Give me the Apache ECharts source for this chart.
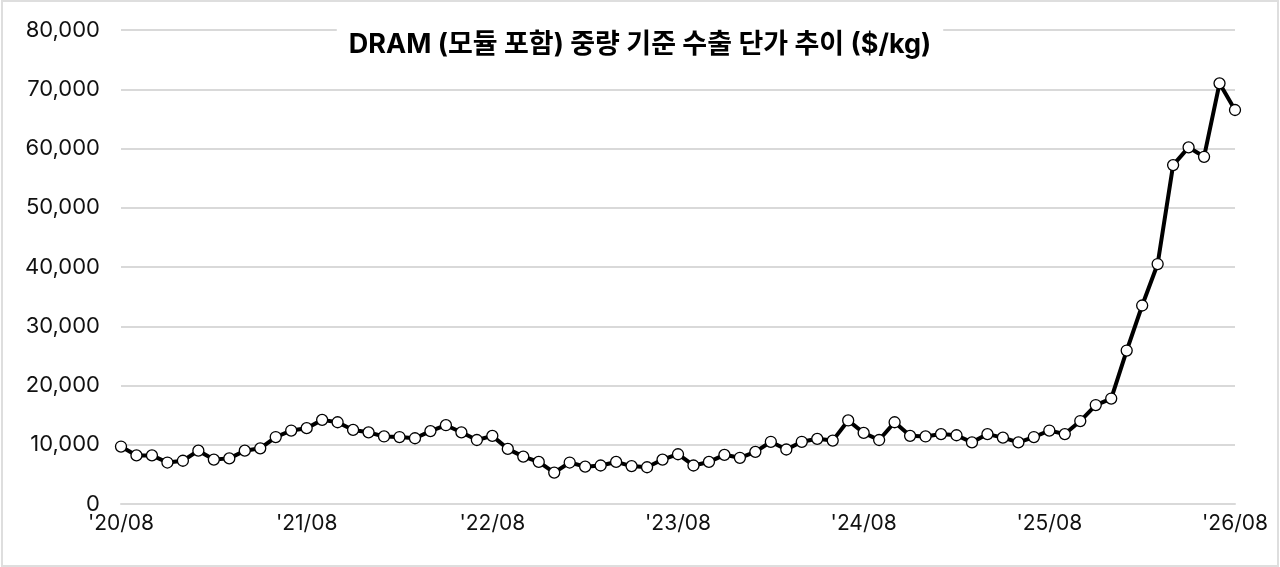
<!DOCTYPE html>
<html>
<head>
<meta charset="utf-8">
<script src="https://cdn.jsdelivr.net/npm/echarts@6/dist/echarts.min.js"></script>
<style>
html,body{margin:0;padding:0;background:#fff;}
#frame{position:absolute;left:1px;top:0px;width:1274px;height:563px;border:2px solid #dedede;}
#chart{position:absolute;left:0;top:0;width:1280px;height:567px;}
</style>
</head>
<body>
<div id="frame"></div>
<div id="chart"></div>
<script>
const titleText = "DRAM (모듈 포함) 중량 기준 수출 단가 추이 ($/kg)";
const categories = [
"'20/08","'20/09","'20/10","'20/11","'20/12",
"'21/01","'21/02","'21/03","'21/04","'21/05","'21/06","'21/07","'21/08","'21/09","'21/10","'21/11","'21/12",
"'22/01","'22/02","'22/03","'22/04","'22/05","'22/06","'22/07","'22/08","'22/09","'22/10","'22/11","'22/12",
"'23/01","'23/02","'23/03","'23/04","'23/05","'23/06","'23/07","'23/08","'23/09","'23/10","'23/11","'23/12",
"'24/01","'24/02","'24/03","'24/04","'24/05","'24/06","'24/07","'24/08","'24/09","'24/10","'24/11","'24/12",
"'25/01","'25/02","'25/03","'25/04","'25/05","'25/06","'25/07","'25/08","'25/09","'25/10","'25/11","'25/12",
"'26/01","'26/02","'26/03","'26/04","'26/05","'26/06","'26/07","'26/08"
];
const unitPrice = [
9700,8200,8200,7000,7300,
9000,7500,7700,9000,9400,11300,12400,12800,14200,13800,12500,12100,
11400,11300,11100,12300,13300,12100,10800,11500,9300,8000,7100,5300,
7000,6300,6500,7100,6400,6200,7500,8400,6500,7100,8300,7800,
8800,10500,9200,10500,11000,10700,14100,12000,10800,13800,11500,11400,
11800,11600,10400,11800,11200,10400,11300,12400,11800,14000,16700,17800,
25900,33500,40500,57200,60200,58600,71000,66500
];
const yMin = 0, yMax = 80000, yStep = 10000;

const chart = echarts.init(document.getElementById('chart'), null, {renderer:'canvas'});
const fontLatin = 'Inter, "Noto Sans CJK KR", sans-serif';
chart.setOption({
  backgroundColor: 'transparent',
  animation: false,
  title: {
    text: titleText,
    left: 'center',
    top: 25,
    backgroundColor: '#fff',
    padding: [6, 12],
    textStyle: {fontFamily: fontLatin, fontWeight: 'bold', fontSize: 27, color: '#000'}
  },
  grid: {left: 121, right: 45, top: 30, bottom: 63, containLabel: false},
  xAxis: {
    type: 'category',
    data: categories,
    boundaryGap: false,
    axisLine: {show: true, lineStyle: {color: '#d9d9d9', width: 2}},
    axisTick: {show: false},
    axisLabel: {interval: 11, margin: 9, fontFamily: fontLatin, fontSize: 21, color: '#111'},
    splitLine: {show: false}
  },
  yAxis: {
    type: 'value',
    min: yMin, max: yMax, interval: yStep,
    axisLine: {show: false},
    axisTick: {show: false},
    axisLabel: {margin: 21, fontFamily: fontLatin, fontSize: 22, color: '#111',
      formatter: v => v.toLocaleString('en-US')},
    splitLine: {lineStyle: {color: '#d9d9d9', width: 2}}
  },
  series: [{
    type: 'line',
    data: unitPrice,
    lineStyle: {color: '#000', width: 4},
    symbol: 'circle',
    symbolSize: 11,
    showAllSymbol: true,
    itemStyle: {color: '#fff', borderColor: '#000', borderWidth: 1.3},
    z: 3
  }]
});
</script>
</body>
</html>
